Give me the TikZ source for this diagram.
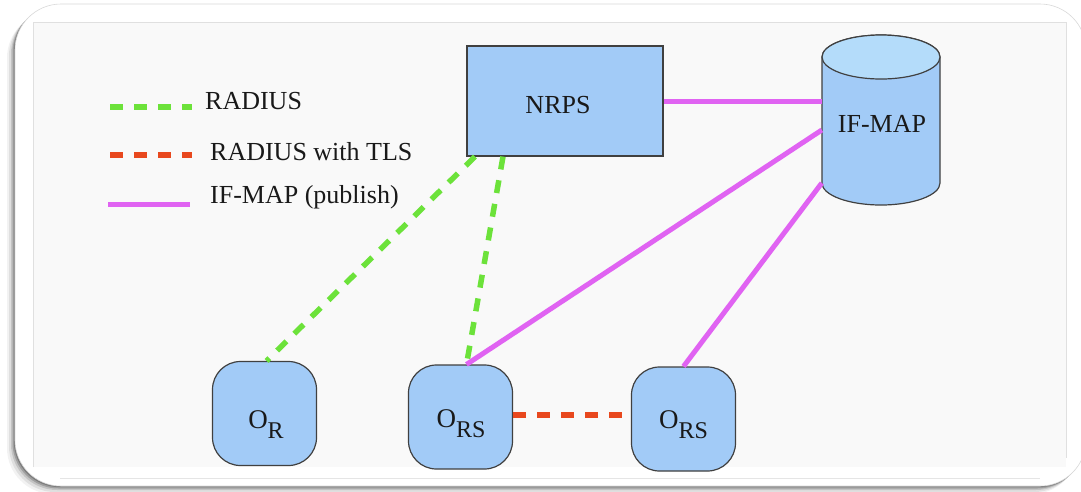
\documentclass[tikz,border=0pt]{standalone}
\usepackage{fontspec}
\setmainfont{Liberation Serif}
\begin{document}
\begin{tikzpicture}[x=1pt,y=-1pt,
  lbl/.style={font=\fontsize{26}{30}\selectfont, text=black!90, inner sep=0pt},
  boxfill/.style={fill=boxblue, draw=black!75, line width=1.2pt},
  station/.style={boxfill, rounded corners=28pt, minimum width=104pt, minimum height=104pt, inner sep=0pt,
                  font=\fontsize{27}{30}\selectfont, text=black!90},
  radius/.style={draw=radgreen, line width=5.5pt, dash pattern=on 13pt off 11pt},
  radtls/.style={draw=tlsred, line width=5.5pt, dash pattern=on 13pt off 11pt},
  ifmap/.style={draw=mapmag, line width=5pt},
]
\definecolor{boxblue}{HTML}{A2CBF7}
\definecolor{boxtop}{HTML}{B4DCFA}
\definecolor{radgreen}{HTML}{6CE23A}
\definecolor{tlsred}{HTML}{E8481E}
\definecolor{mapmag}{HTML}{E063F2}
\definecolor{panel}{HTML}{F9F9F9}
\newcommand{\sub}[1]{\raisebox{-10pt}{\fontsize{24}{28}\selectfont #1}}

\useasboundingbox (0,0) rectangle (1081,491);
\fill[white] (0,0) rectangle (1081,491);

% card with a soft drop shadow towards the lower left
\foreach \d/\o in {8/0.05,6/0.08,4/0.12,2.5/0.18,1.2/0.22}
  \fill[black, opacity=\o, rounded corners=46pt] (15-\d,4+\d) rectangle (1086-\d,486+\d);
\fill[white, rounded corners=46pt] (15,4) rectangle (1086,486);
\draw[black!15, line width=0.6pt, rounded corners=46pt] (15,4) rectangle (1086,486);
% inner panel
\fill[panel] (33,22) rectangle (1066,467);
\draw[black!12, line width=0.8pt] (33,467) -- (33,22) -- (1066,22) -- (1066,458);
\draw[black!10, line width=0.8pt] (60,478) -- (1040,478);

% legend
\coordinate (g1) at (110,107); \coordinate (g2) at (192,107);
\coordinate (r1) at (110,155); \coordinate (r2) at (192,155);
\coordinate (m1) at (108,204); \coordinate (m2) at (190,204);
\draw[radius] (g1) -- (g2);
\draw[radtls] (r1) -- (r2);
\draw[ifmap] (m1) -- (m2);
\node[lbl, anchor=base west] (lg) at (205,109) {RADIUS};
\node[lbl, anchor=base west] (lr) at (210,160) {RADIUS with TLS};
\node[lbl, anchor=base west] (lm) at (210,203) {IF-MAP (publish)};

% NRPS server
\node[boxfill, minimum width=196pt, minimum height=110pt, inner sep=0pt] (nrps) at (565,101) {};
\node[lbl] (nrpstext) at (558,105) {NRPS};

% IF-MAP data store (cylinder)
\node[minimum width=118pt, minimum height=170pt, inner sep=0pt] (map) at (881,120) {};
\filldraw[boxfill] (822,57) -- (822,183) arc[start angle=180, end angle=360, x radius=59pt, y radius=22pt]
  -- (940,57) arc[start angle=0, end angle=180, x radius=59pt, y radius=22pt] -- cycle;
\filldraw[fill=boxtop, draw=black!75, line width=1.2pt] (881,57) ellipse[x radius=59pt, y radius=22pt];
\node[lbl] (maptext) at (882,124) {IF-MAP};

% stations
\node[station] (or)   at (264.5,413.5) {\raisebox{-14.5pt}[0pt][0pt]{\hspace{3pt}O\sub{R}}};
\node[station] (ors1) at (460.5,417)   {\raisebox{-10pt}[0pt][0pt]{\hspace{1pt}O\sub{RS}}};
\node[station] (ors2) at (683.5,419)   {\raisebox{-9.5pt}[0pt][0pt]{O\sub{RS}}};

% links
\draw[ifmap] (nrps.east) -- (nrps.east -| map.west);
\draw[ifmap] ([yshift=-10pt]map.west) -- ([xshift=6pt]ors1.north);
\draw[ifmap] ([yshift=-63pt]map.west) -- (ors2.north);
\draw[radius] ([xshift=-90pt]nrps.south) -- ([xshift=2pt]or.north);
\draw[radius] ([xshift=-62pt]nrps.south) -- ([xshift=6pt]ors1.north);
\draw[radtls] ([yshift=2pt]ors1.east) -- ([yshift=2pt]ors1.east -| ors2.west);
\end{tikzpicture}
\end{document}
